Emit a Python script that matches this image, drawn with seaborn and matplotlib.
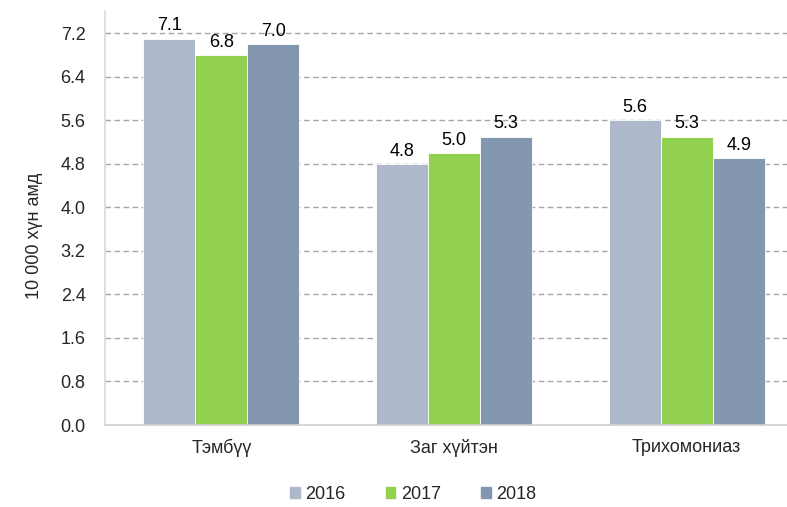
import pandas as pd
import matplotlib.pyplot as plt
import matplotlib.patches as mpatches
import seaborn as sns

# Data
categories = ['Тэмбүү', 'Заг хүйтэн', 'Трихомониаз']
years = ['2016', '2017', '2018']
values_2016 = [7.1, 4.8, 5.6]
values_2017 = [6.8, 5.0, 5.3]
values_2018 = [7.0, 5.3, 4.9]
yticks = [0.0, 0.8, 1.6, 2.4, 3.2, 4.0, 4.8, 5.6, 6.4, 7.2]

colors = ['#adb9ca', '#92d050', '#8497b0']

df = pd.DataFrame({
    'Category': categories * 3,
    'Year': [y for y in years for _ in categories],
    'Value': values_2016 + values_2017 + values_2018,
})

sns.set_style('white')
plt.rcParams['font.family'] = ['Liberation Sans', 'DejaVu Sans']

fig = plt.figure(figsize=(7.87, 5.07), dpi=100)
ax = fig.add_axes([0.1334, 0.1617, 0.887, 0.816])

sns.barplot(data=df, x='Category', y='Value', hue='Year', palette=colors,
            saturation=1, width=0.67, edgecolor='white', linewidth=0.6,
            ax=ax, legend=False)

# Value labels above bars
for cont in ax.containers:
    ax.bar_label(cont, fmt='%.1f', padding=3, fontsize=13, color='#000000')

ax.set_xlim(-0.5, 2.5)
ax.set_ylim(0, 7.6)
ax.set_yticks(yticks)
ax.set_yticklabels([f'{t:.1f}' for t in yticks], fontsize=13)
ax.tick_params(axis='x', labelsize=13, length=0, pad=10)
ax.tick_params(axis='y', length=0, pad=14)
ax.set_xlabel('')
ax.set_ylabel('10 000 хүн амд', fontsize=13)
ax.yaxis.set_label_coords(-0.089, 0.457)

ax.set_axisbelow(True)
for t in yticks[1:]:
    ax.axhline(t, color='#a6a6a6', linestyle=(0, (4, 2.5)), linewidth=1, zorder=0)

for side in ['top', 'right']:
    ax.spines[side].set_visible(False)
ax.spines['left'].set_color('#d9d9d9')
ax.spines['bottom'].set_color('#d0d0d0')
ax.spines['left'].set_linewidth(1.2)
ax.spines['bottom'].set_linewidth(1.2)

handles = [mpatches.Patch(color=c, label=y) for c, y in zip(colors, years)]
fig.legend(handles=handles, loc='center', bbox_to_anchor=(0.525, 0.025), ncol=3,
           frameon=False, fontsize=13, handlelength=0.55, handleheight=0.55,
           handletextpad=0.3, columnspacing=2.2)

plt.savefig('out.png', dpi=100)
plt.close()
